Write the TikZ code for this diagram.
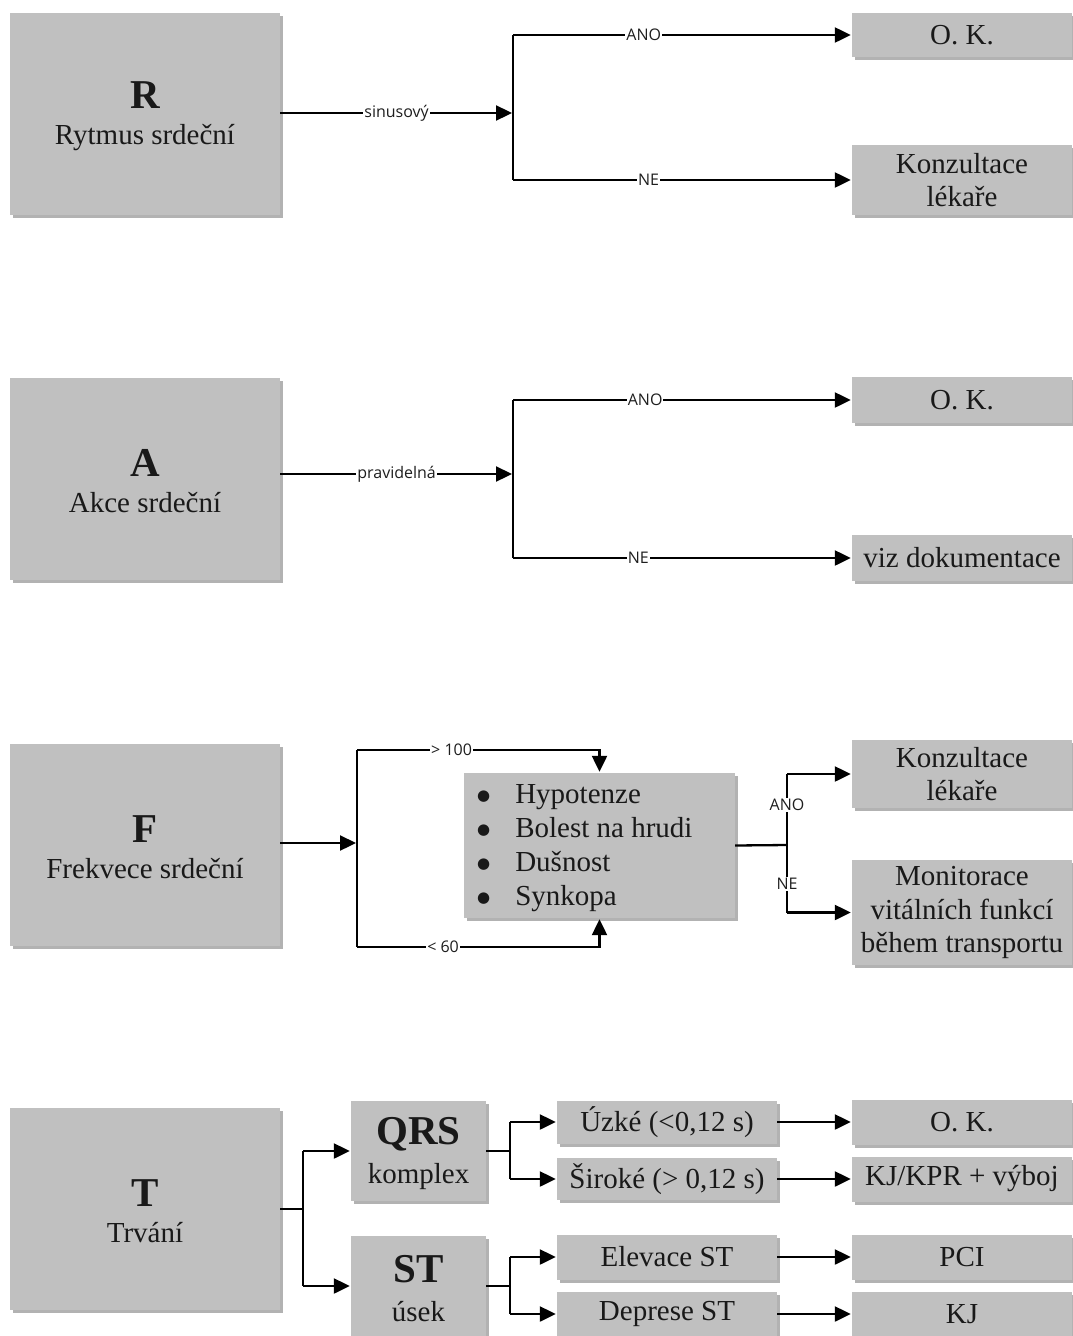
\documentclass[tikz,border=0pt]{standalone}
\usepackage{fontspec}
\setmainfont{Liberation Serif}
\newfontfamily\labfont{Open Sans}
\newfontfamily\symfont{DejaVu Sans}
\usetikzlibrary{arrows.meta,shadows}
\definecolor{boxgray}{RGB}{192,192,192}
\definecolor{txt}{RGB}{25,25,25}
\definecolor{labtxt}{RGB}{30,30,30}
\newcommand\headtxt[1]{{\bfseries\fontsize{41}{40}\selectfont\rule{0pt}{32pt}#1}}
\newcommand\bul{\raisebox{3pt}{\symfont\fontsize{15}{20}\selectfont ●}}
\tikzset{
  box/.style={draw=none, fill=boxgray, text=txt, align=center, inner sep=2pt,
    drop shadow={shadow xshift=3pt, shadow yshift=-3pt, fill=black, opacity=0.3},
    font=\fontsize{29}{33.5}\selectfont},
  mainbox/.style={box, minimum width=270pt, minimum height=202pt, font=\fontsize{29}{36}\selectfont},
  endbox/.style={box, minimum width=220pt},
  midbox/.style={box, minimum width=220pt},
  subbox/.style={box, minimum width=135pt, minimum height=100pt, font=\fontsize{29}{39}\selectfont},
  wire/.style={line width=2.3pt, draw=black},
  conn/.style={wire, -{Triangle[length=16pt,width=15pt]}, shorten >=1pt},
  lab/.style={fill=white, inner sep=1pt, text=labtxt, font=\labfont\fontsize{16}{16}\selectfont},
}
\begin{document}
\begin{tikzpicture}[x=1pt,y=-1pt]
\useasboundingbox (0,0) rectangle (1072,1336);

% ---------- R ----------
\node[mainbox] (R) at (145,114) {\headtxt{R}\\Rytmus srdeční};
\node[endbox, minimum height=44pt] (ok1) at (962,35) {O. K.};
\node[endbox, minimum height=70pt] (kon1) at (962,180) {Konzultace\\lékaře};
\coordinate (rj) at (513,113);
\coordinate (rt) at (513,35);
\coordinate (rb) at (513,180);
\draw[conn] (R.east |- rj) -- node[lab,pos=0.5]{sinusový} (rj);
\draw[wire] (rt) -- (rb);
\draw[conn] (rt) -- node[lab,pos=0.386]{ANO} (ok1.west);
\draw[conn] (rb) -- node[lab,pos=0.40]{NE} (kon1.west);

% ---------- A ----------
\node[mainbox] (A) at (145,479) {\headtxt{A}\\Akce srdeční};
\node[endbox, minimum height=46pt] (ok2) at (962,400) {O. K.};
\node[endbox, minimum height=46pt] (viz) at (962,558) {viz dokumentace};
\coordinate (aj) at (513,474);
\coordinate (at1) at (513,400);
\coordinate (ab1) at (513,558);
\draw[conn] (A.east |- aj) -- node[lab,pos=0.5]{pravidelná} (aj);
\draw[wire] (at1) -- (ab1);
\draw[conn] (at1) -- node[lab,pos=0.39]{ANO} (ok2.west);
\draw[conn] (ab1) -- node[lab,pos=0.37]{NE} (viz.west);

% ---------- F ----------
\node[mainbox] (F) at (145,845) {\headtxt{F}\\Frekvece srdeční};
\node[box, minimum width=271pt, minimum height=145pt] (lst) at (599.5,845.5) {};
\node[anchor=west, inner sep=0pt, text=txt, font=\fontsize{29}{34}\selectfont] (lsttxt) at (477,848)
  {\begin{tabular}{@{}l@{\hspace{25pt}}l@{}}
   \bul & Hypotenze\\
   \bul & Bolest na hrudi\\
   \bul & Dušnost\\
   \bul & Synkopa
   \end{tabular}};
\node[endbox, minimum height=68pt] (kon2) at (962,774) {Konzultace\\lékaře};
\node[endbox, minimum height=105pt] (mon) at (962,912.5) {Monitorace\\vitálních funkcí\\během transportu};
\coordinate (fj) at (357,843);
\coordinate (ft) at (357,750);
\coordinate (fb) at (357,947);
\draw[conn] (F.east |- fj) -- (fj);
\draw[wire] (ft) -- (fb);
\draw[conn] (ft) -- node[lab,pos=0.39]{> 100} (ft -| lst.north) -- (lst.north);
\draw[conn] (fb) -- node[lab,pos=0.355]{< 60} (fb -| lst.south) -- (lst.south);
\coordinate (fr) at (787,845);
\coordinate (frt) at (787,774);
\coordinate (frb) at (787,912.5);
\draw[wire] (lst.east) -- (fr);
\draw[wire] (frt) -- node[lab,pos=0.44]{ANO} (fr) -- node[lab,pos=0.58]{NE} (frb);
\draw[conn] (frt) -- (kon2.west);
\draw[conn] (frb) -- (mon.west);

% ---------- T ----------
\node[mainbox] (T) at (145,1209) {\headtxt{T}\\Trvání};
\node[subbox] (qrs) at (418.5,1151) {\headtxt{QRS}\\komplex};
\node[subbox] (st) at (418.5,1286) {\headtxt{ST}\\úsek};
\node[midbox, minimum height=43pt] (uz) at (667,1122) {Úzké (<0,12 s)};
\node[midbox, minimum height=42pt] (si) at (667,1179) {Široké (> 0,12 s)};
\node[midbox, minimum height=45pt] (el) at (667,1257) {Elevace ST};
\node[midbox, minimum height=44pt] (de) at (667,1314) {Deprese ST};
\node[endbox, minimum height=45pt] (ok3) at (962,1122) {O. K.};
\node[endbox, minimum height=45pt] (kjk) at (962,1179) {KJ/KPR + výboj};
\node[endbox, minimum height=45pt] (pci) at (962,1257) {PCI};
\node[endbox, minimum height=44pt] (kj) at (962,1314) {KJ};
\coordinate (tj) at (303,1209);
\coordinate (tt) at (303,1151);
\coordinate (tb) at (303,1286);
\draw[wire] (T.east |- tj) -- (tj);
\draw[wire] (tt) -- (tb);
\draw[conn] (tt) -- (qrs.west);
\draw[conn] (tb) -- (st.west);
\coordinate (qj) at (510,1151);
\coordinate (qt) at (510,1122);
\coordinate (qb) at (510,1179);
\draw[wire] (qrs.east) -- (qj);
\draw[wire] (qt) -- (qb);
\draw[conn] (qt) -- (uz.west);
\draw[conn] (qb) -- (si.west);
\coordinate (sj) at (510,1286);
\coordinate (stt) at (510,1257);
\coordinate (sbb) at (510,1314);
\draw[wire] (st.east) -- (sj);
\draw[wire] (stt) -- (sbb);
\draw[conn] (stt) -- (el.west);
\draw[conn] (sbb) -- (de.west);
\draw[conn] (uz.east) -- (ok3.west);
\draw[conn] (si.east) -- (kjk.west);
\draw[conn] (el.east) -- (pci.west);
\draw[conn] (de.east) -- (kj.west);
\end{tikzpicture}
\end{document}
